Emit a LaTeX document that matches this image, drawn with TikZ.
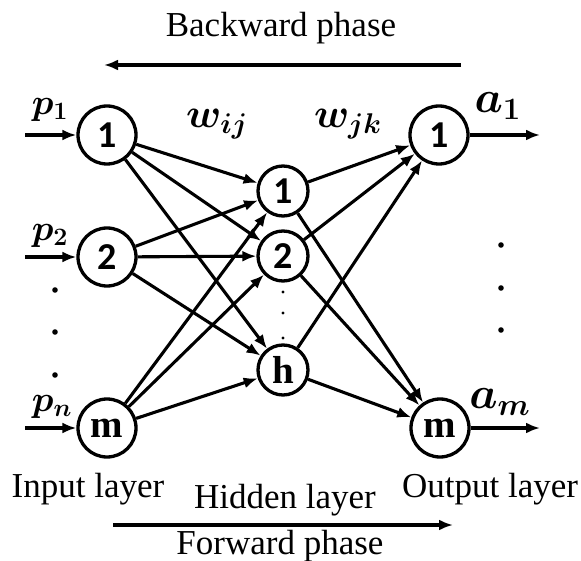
\documentclass[tikz,border=0pt]{standalone}
\usepackage{amsmath}
\usepackage{bm}
\usepackage{fontspec}
\setmainfont{Liberation Serif}
\newfontfamily\numfont{Carlito}
\usetikzlibrary{arrows.meta, positioning}

% bold math label, enlarged from 24pt
\newcommand{\mlab}[2]{\scalebox{#1}{\fontsize{24}{24}\selectfont$\boldsymbol{#2}$}}

\begin{document}
\begin{tikzpicture}[
    x=1pt, y=-1pt,
    every node/.style={font=\fontsize{35}{40}\selectfont},
    neuron/.style={circle, draw, line width=3.3pt, minimum size=58pt, inner sep=0pt,
        font=\fontsize{38}{38}\selectfont\numfont\bfseries},
    hid/.style={neuron, minimum size=50pt},
    letter/.style={font=\fontsize{39}{39}\selectfont\bfseries},
    link/.style={line width=3.1pt, -{Latex[length=14pt,width=11pt]}},
    phase/.style={line width=3.5pt, -{Latex[length=14pt,width=11pt]}},
]
\useasboundingbox (0,0) rectangle (581,561);

% Input layer
\node[neuron] (i1) at (107,135) {1};
\node[neuron] (i2) at (107,257) {2};
\node[neuron, letter] (im) at (107,428) {m};

% Hidden layer
\node[hid] (h1) at (283,191) {1};
\node[hid] (h2) at (283,256) {2};
\node[hid, letter] (hh) at (283,370) {h};

% Output layer
\node[neuron] (o1) at (439,135) {1};
\node[neuron, letter] (om) at (440,428) {m};

% Inputs
\coordinate (s1) at (25,135);
\coordinate (s2) at (25,257);
\coordinate (sm) at (25,428);
\draw[link] (s1) -- (i1);
\draw[link] (s2) -- (i2);
\draw[link] (sm) -- (im);
\node (p1) at (50,110) {\mlab{1.45}{p_1}};
\node (p2) at (50,236) {\mlab{1.45}{p_2}};
\node (pn) at (52,407) {\mlab{1.45}{p_n}};

% Outputs
\coordinate (t1) at (540,135);
\coordinate (tm) at (540,428);
\draw[link] (o1) -- (t1);
\draw[link] (om) -- (tm);
\node (a1) at (498,106) {\mlab{1.8}{a_1}};
\node (am) at (500,402) {\mlab{1.8}{a_m}};

% Weights
\foreach \i in {i1,i2,im} {
    \foreach \h in {h1,h2,hh} {
        \draw[link] (\i) -- (\h);
    }
}
\foreach \h in {h1,h2,hh} {
    \foreach \o in {o1,om} {
        \draw[link] (\h) -- (\o);
    }
}
\node (wij) at (217,124) {\mlab{1.65}{w_{ij}}};
\node (wjk) at (348,124) {\mlab{1.65}{w_{jk}}};

% Dots
\foreach \y in {290,332,375} \fill (55,\y) circle (2.8pt);
\foreach \y in {292,313,338} \fill (283,\y) circle (1.7pt);
\foreach \y in {245,288,330} \fill (501,\y) circle (2.8pt);

% Layer names
\node (inl) at (88,489) {Input layer};
\node (hidl) at (285,500) {Hidden layer};
\node (outl) at (490,489) {Output layer};

% Phases
\node (back) at (281,28) {Backward phase};
\coordinate (b1) at (461,65);
\coordinate (b2) at (104,65);
\draw[phase] (b1) -- (b2);
\coordinate (f1) at (113,525);
\coordinate (f2) at (453,525);
\draw[phase] (f1) -- (f2);
\node (fwd) at (280,546) {Forward phase};

\end{tikzpicture}
\end{document}
